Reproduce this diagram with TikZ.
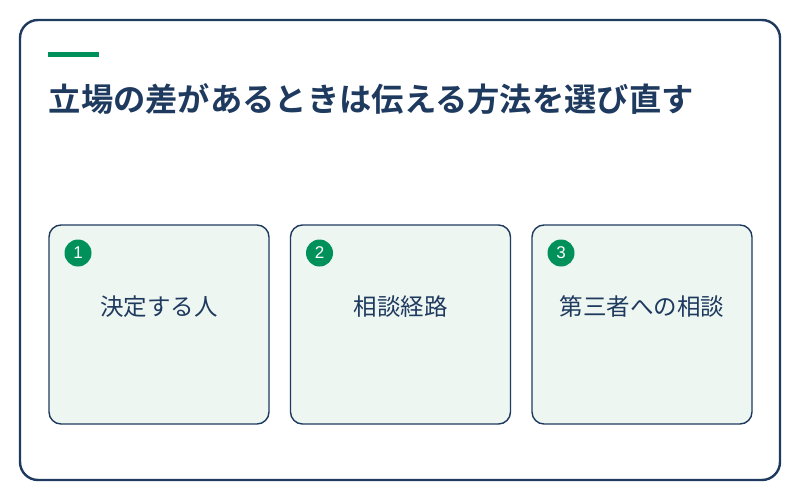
\documentclass[tikz,border=0pt]{standalone}
\usepackage{fontspec}
\setmainfont{Noto Sans CJK JP}
\newfontfamily\jpbold{Noto Sans CJK JP Bold}
\newfontfamily\digitfont{Liberation Sans}
\definecolor{navy}{HTML}{1F3A5F}
\definecolor{leaf}{HTML}{00905A}
\definecolor{mint}{HTML}{EEF6F1}
\begin{document}
\begin{tikzpicture}[x=1pt, y=-1pt, line cap=round, line join=round]
			\tikzset{card/.style={draw=navy, fill=mint, line width=1.4pt, rounded corners=12pt},
				badge/.style={circle, fill=leaf, text=white, inner sep=0pt, minimum size=27pt, font=\digitfont\fontsize{17}{17}\selectfont},
				cardtext/.style={text=navy, font=\fontsize{23.5}{23.5}\selectfont}}
			\useasboundingbox (0,0) rectangle (800,500);
			\draw[navy, line width=2.4pt, rounded corners=18pt, fill=white] (20,20) rectangle (780,480);
			\fill[leaf] (48,52) rectangle (99,57.5);
			\node[anchor=base west, inner sep=0pt, text=navy, font=\jpbold\fontsize{32.3}{32.3}\selectfont] (title) at (48.5,112) {立場の差があるときは伝える方法を選び直す};
			\foreach \i/\x/\txt in {1/49/決定する人, 2/290.5/相談経路, 3/532/第三者への相談} {
				\draw[card] (\x,225) rectangle ++(220,199);
				\node[badge] (badge\i) at (\x+29,253) {\i};
				\node[cardtext] (label\i) at (\x+110,307) {\txt};
			}
		\end{tikzpicture}
\end{document}
